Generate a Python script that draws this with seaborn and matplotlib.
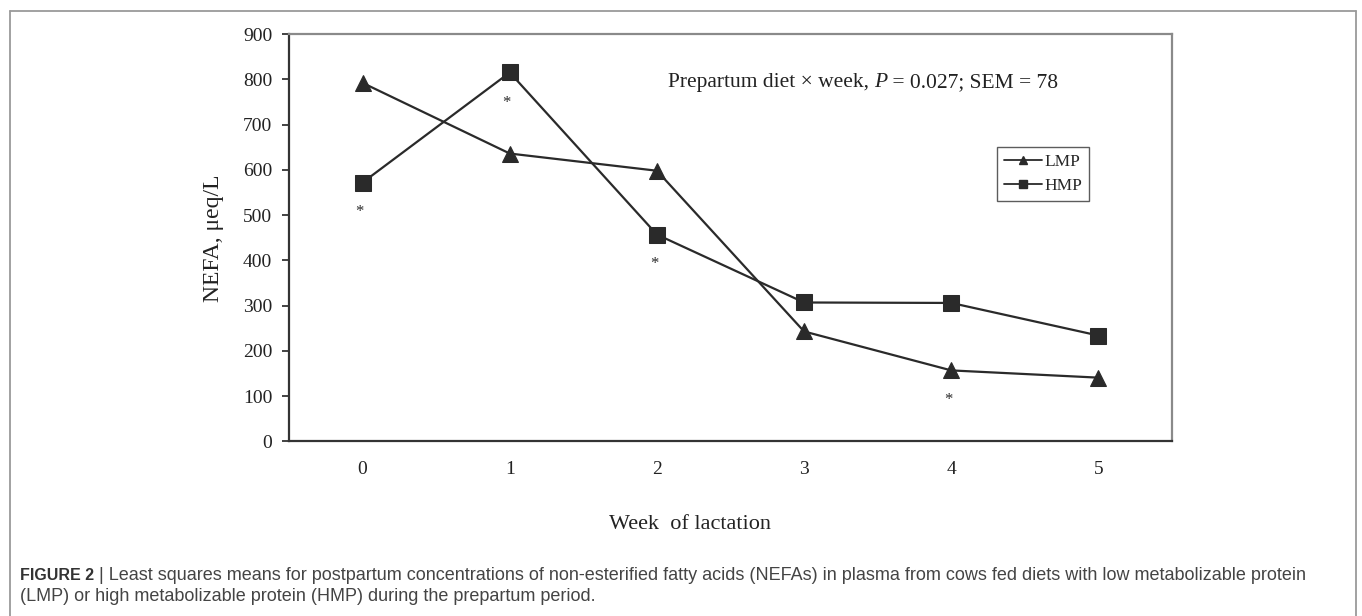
import pandas as pd
import matplotlib.pyplot as plt
import seaborn as sns
from matplotlib.lines import Line2D

# data
weeks = [0, 1, 2, 3, 4, 5]
lmp = [792, 636, 598, 243, 157, 141]
hmp = [572, 815, 457, 307, 306, 234]

# significance stars (week, y position)
star_weeks = [0, 1, 2, 4]
star_y = [507, 748, 392, 92]

y_ticks = [0, 100, 200, 300, 400, 500, 600, 700, 800, 900]

df = pd.DataFrame({
    'Week': weeks * 2,
    'NEFA': lmp + hmp,
    'Diet': ['LMP'] * len(weeks) + ['HMP'] * len(weeks),
})

sns.set_style('white')
plt.rcParams['font.family'] = ['Liberation Serif', 'DejaVu Serif']

fig = plt.figure(figsize=(13.62, 6.16), dpi=100)
ax = fig.add_axes([0.2122, 0.2833, 0.6483, 0.6615])

line_col = '#2a2a2a'
txt_col = '#222222'
sns.lineplot(data=df, x='Week', y='NEFA', hue='Diet', style='Diet',
             palette={'LMP': line_col, 'HMP': line_col},
             markers={'LMP': '^', 'HMP': 's'}, dashes=False,
             markersize=11, markeredgecolor=line_col, linewidth=1.6,
             legend=False, ax=ax)

for w, y in zip(star_weeks, star_y):
    ax.text(w - 0.02, y, '*', ha='center', va='center', fontsize=12, color=line_col)

ax.set_xlim(-0.5, 5.5)
ax.set_ylim(0, 900)
ax.set_yticks(y_ticks)
ax.set_xticks(weeks)
ax.tick_params(axis='y', direction='out', length=5, width=1.2, colors=txt_col,
               labelsize=14, pad=7, left=True)
ax.tick_params(axis='x', length=0, labelsize=14, pad=14, colors=txt_col)
ax.set_xlabel('')
ax.set_ylabel('')

for side in ['left', 'bottom']:
    ax.spines[side].set_color('#333333')
    ax.spines[side].set_linewidth(1.6)
for side in ['top', 'right']:
    ax.spines[side].set_color('#8a8a8a')
    ax.spines[side].set_linewidth(1.6)

# annotation with italic P
t1 = ax.text(0.429, 0.88, 'Prepartum diet × week, ', transform=ax.transAxes,
             ha='left', va='center', fontsize=15.5, color=txt_col)
t2 = ax.annotate('P', xy=(1, 0.5), xycoords=t1, ha='left', va='center',
                 fontsize=15.5, color=txt_col, style='italic')
ax.annotate(' = 0.027; SEM = 78', xy=(1, 0.5), xycoords=t2, ha='left', va='center',
            fontsize=15.5, color=txt_col)

handles = [
    Line2D([], [], color=line_col, marker='^', markersize=6, linewidth=1.3),
    Line2D([], [], color=line_col, marker='s', markersize=6, linewidth=1.3),
]
leg = ax.legend(handles, ['LMP', 'HMP'], loc='upper left', bbox_to_anchor=(0.802, 0.7227),
                borderaxespad=0, fontsize=12.5, frameon=True, fancybox=False,
                handlelength=2.2, handletextpad=0.1, borderpad=0.4, labelspacing=0.45)
leg.get_frame().set_edgecolor('#333333')
leg.get_frame().set_linewidth(1.0)

fig.text(0.1564, 0.614, 'NEFA, μeq/L', rotation=90, ha='center', va='center',
         fontsize=17, color=txt_col)
fig.text(0.5066, 0.148, 'Week  of lactation', ha='center', va='center',
         fontsize=16, color=txt_col)

# caption
cap_font = ['Liberation Sans', 'DejaVu Sans']
cap_col = '#444444'
c1 = fig.text(0.0147, 0.066, 'FIGURE 2', ha='left', va='center', fontsize=11.5,
              weight='bold', color='#333333', family=cap_font)
fig.add_artist(plt.Annotation(
    ' | Least squares means for postpartum concentrations of non-esterified fatty acids (NEFAs) in plasma from cows fed diets with low metabolizable protein',
    xy=(1, 0.5), xycoords=c1, ha='left', va='center', fontsize=13, color=cap_col,
    family=cap_font))
fig.text(0.0147, 0.032,
         '(LMP) or high metabolizable protein (HMP) during the prepartum period.',
         ha='left', va='center', fontsize=13, color=cap_col, family=cap_font)

# outer frame (top, left, right)
frame_kw = dict(transform=fig.transFigure, color='#9a9a9a', linewidth=1.3)
fig.add_artist(Line2D([0.0073, 0.9956], [0.982, 0.982], **frame_kw))
fig.add_artist(Line2D([0.0073, 0.0073], [0.0, 0.982], **frame_kw))
fig.add_artist(Line2D([0.9956, 0.9956], [0.0, 0.982], **frame_kw))

fig.savefig('out.png', dpi=100)
